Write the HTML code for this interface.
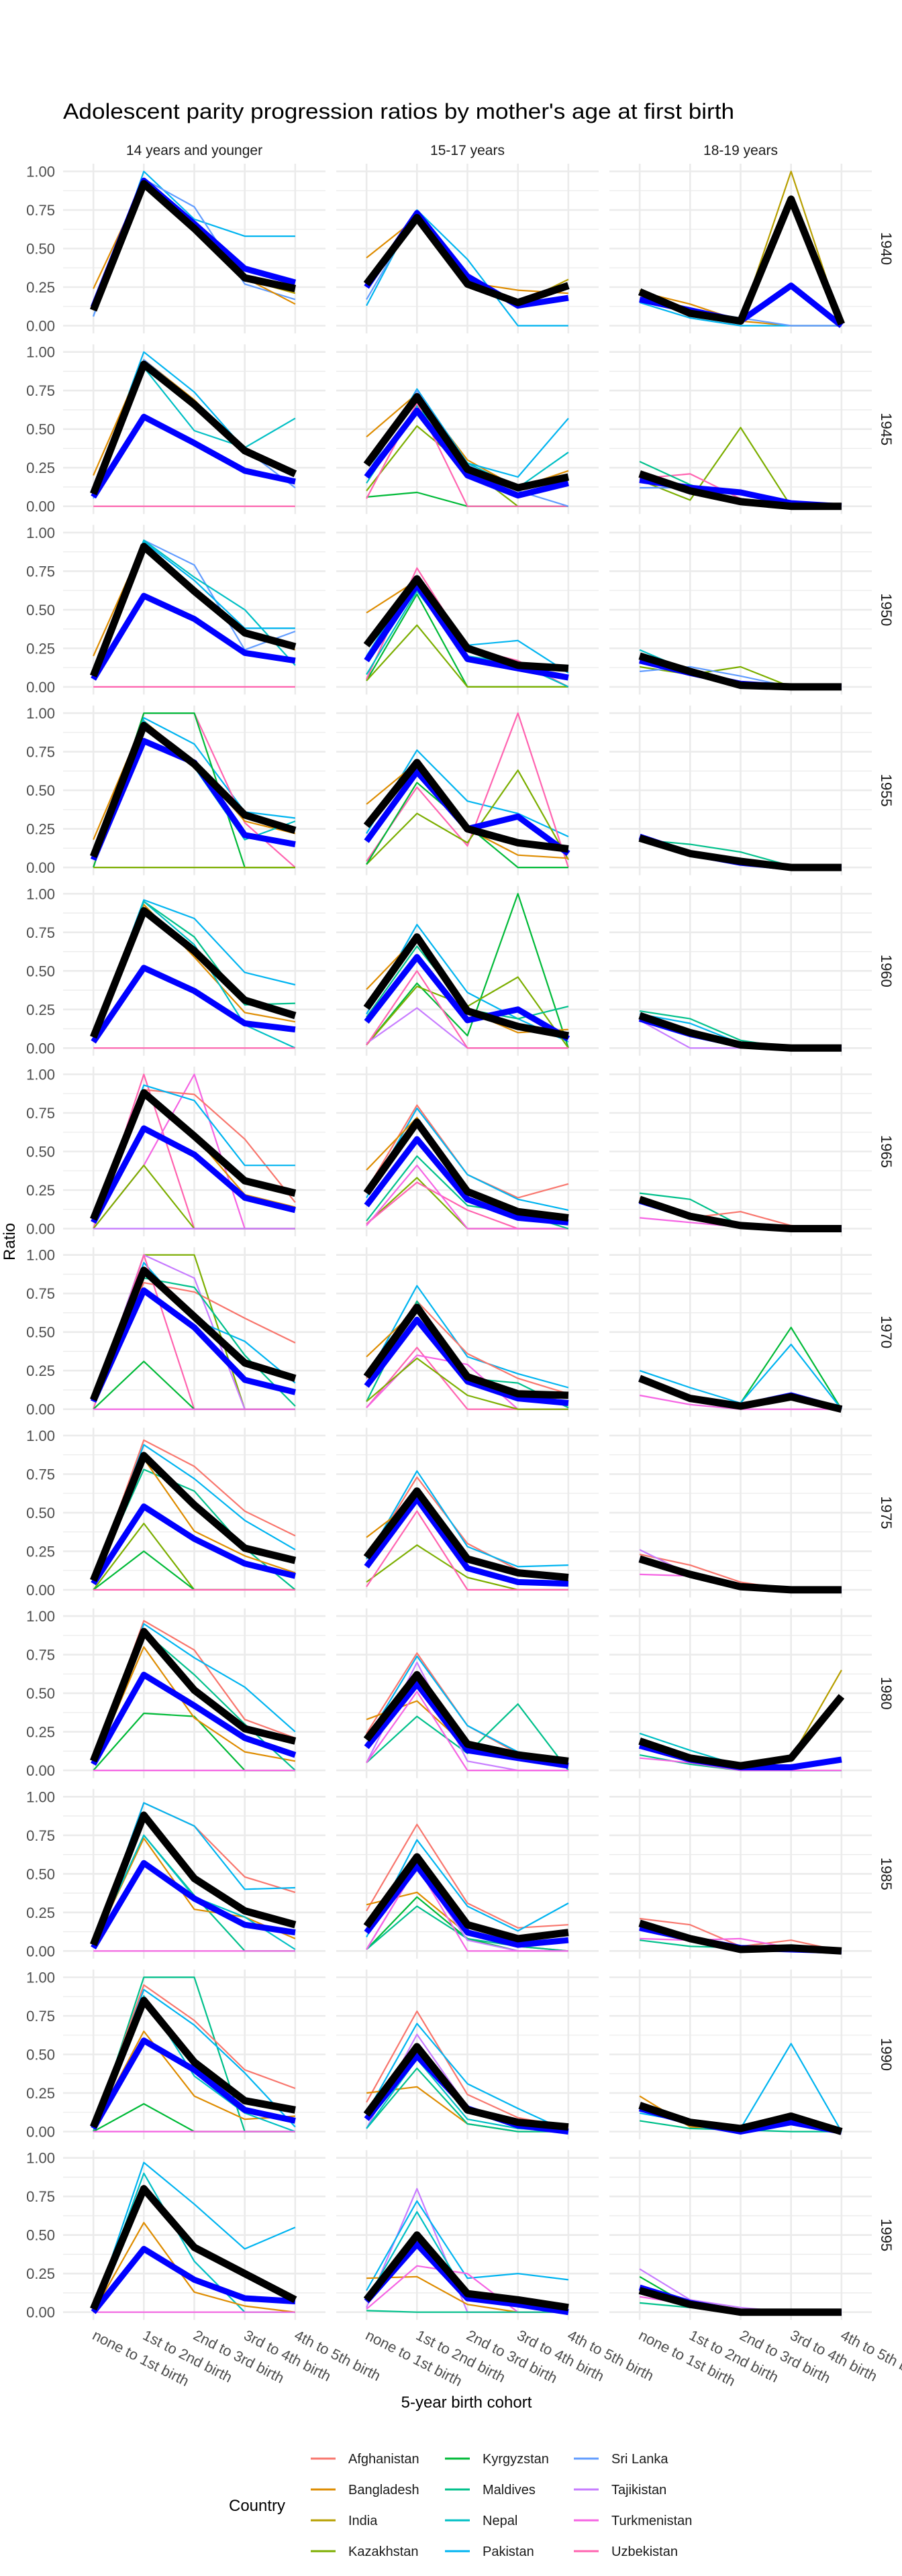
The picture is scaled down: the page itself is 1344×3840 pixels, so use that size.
<!DOCTYPE html>
<html><head><meta charset="utf-8"><title>Adolescent parity progression ratios</title>
<style>
html,body{margin:0;padding:0;background:#fff;}
svg{display:block;font-family:"Liberation Sans",Arial,sans-serif;}
</style></head>
<body>
<svg id="chart" width="1344" height="3840" viewBox="0 0 1344 3840" xmlns="http://www.w3.org/2000/svg">
<rect x="0" y="0" width="1344" height="3840" fill="#fff"/>
<text x="94" y="177" font-size="32" fill="#000" textLength="1000" lengthAdjust="spacingAndGlyphs">Adolescent parity progression ratios by mother's age at first birth</text>
<g id="panels"></g>
<text x="695" y="3589" font-size="24" text-anchor="middle" fill="#000">5-year birth cohort</text>
<text transform="translate(22,1851) rotate(-90)" font-size="24" text-anchor="middle" fill="#000">Ratio</text>
<g id="legend"></g>
</svg>
<script>
const stages = ["none to 1st birth","1st to 2nd birth","2nd to 3rd birth","3rd to 4th birth","4th to 5th birth"];
const ageGroups = ["14 years and younger","15-17 years","18-19 years"];
const cohorts = ["1940","1945","1950","1955","1960","1965","1970","1975","1980","1985","1990","1995"];
const yTicks = [0,0.25,0.5,0.75,1];
const yTickLabels = ["0.00","0.25","0.50","0.75","1.00"];
const countries = ["Afghanistan","Bangladesh","India","Kazakhstan","Kyrgyzstan","Maldives","Nepal","Pakistan","Sri Lanka","Tajikistan","Turkmenistan","Uzbekistan"];
const countryColors = ["#F8766D","#DE8C00","#B79F00","#7CAE00","#00BA38","#00C08B","#00BFC4","#00B4F0","#619CFF","#C77CFF","#F564E3","#FF64B0"];

// black (overall) line, one per panel, row-major (cohort, age group)
const blackSeries = [
 [.10,.92,.63,.31,.24],[.27,.70,.27,.15,.26],[.22,.08,.03,.82,.01],
 [.08,.92,.66,.36,.21],[.27,.71,.24,.12,.19],[.21,.10,.03,0,0],
 [.07,.91,.62,.35,.26],[.27,.70,.25,.14,.12],[.20,.10,.01,0,0],
 [.07,.92,.67,.34,.24],[.27,.68,.25,.16,.12],[.19,.09,.04,0,0],
 [.07,.89,.63,.31,.21],[.26,.72,.24,.14,.08],[.21,.10,.02,0,0],
 [.06,.88,.60,.31,.23],[.23,.69,.24,.11,.07],[.19,.08,.02,0,0],
 [.06,.90,.60,.30,.20],[.21,.66,.21,.10,.09],[.20,.07,.02,.08,0],
 [.06,.87,.55,.27,.19],[.21,.64,.20,.11,.08],[.20,.10,.02,0,0],
 [.06,.90,.52,.27,.19],[.20,.62,.17,.10,.06],[.19,.08,.03,.08,.48],
 [.04,.88,.47,.26,.17],[.16,.61,.17,.08,.12],[.18,.08,.01,.02,0],
 [.03,.85,.45,.20,.14],[.11,.55,.14,.06,.03],[.17,.06,.02,.10,0],
 [.02,.80,.42,.25,.08],[.08,.50,.12,.08,.03],[.14,.05,0,0,0]
];
// blue (weighted) line, one per panel
const blueSeries = [
 [.12,.94,.66,.37,.28],[.25,.73,.32,.13,.18],[.17,.10,.03,.26,0],
 [.06,.58,.41,.23,.16],[.19,.62,.20,.07,.15],[.17,.12,.09,.02,0],
 [.05,.59,.44,.22,.17],[.17,.66,.18,.12,.06],[.17,.09,.02,0,0],
 [.05,.82,.68,.21,.15],[.17,.62,.25,.33,.09],[.20,.09,.03,0,0],
 [.04,.52,.37,.16,.12],[.17,.59,.18,.25,.06],[.19,.09,.02,0,0],
 [.04,.65,.48,.20,.12],[.15,.58,.19,.07,.04],[.18,.08,.02,0,0],
 [.05,.77,.53,.19,.11],[.15,.58,.18,.07,.04],[.20,.07,.02,.09,0],
 [.04,.54,.33,.17,.09],[.15,.59,.14,.05,.04],[.20,.10,.02,0,0],
 [.04,.62,.42,.21,.10],[.15,.56,.13,.08,.03],[.16,.07,.02,.02,.07],
 [.02,.57,.34,.17,.12],[.12,.55,.12,.04,.07],[.15,.08,.02,.01,0],
 [.02,.59,.40,.14,.07],[.08,.49,.15,.04,0],[.15,.06,0,.06,0],
 [0,.41,.21,.09,.07],[.07,.44,.09,.05,0],[.16,.06,0,0,0]
];
// country lines: [panel index (row*3+col), country index, values]
const countryLines = [
 [0,7,[.06,1,.69,.58,.58]],[0,8,[.06,.95,.77,.27,.17]],[0,1,[.24,.93,.62,.31,.14]],[0,2,[.10,.92,.62,.30,.21]],
 [1,1,[.44,.70,.28,.23,.21]],[1,7,[.13,.75,.43,0,0]],[1,2,[.27,.70,.28,.14,.30]],[1,8,[.17,.73,.30,.13,.18]],
 [2,2,[.23,.08,.03,1,.01]],[2,1,[.22,.14,.03,0,0]],[2,7,[.15,.05,0,0,0]],[2,8,[.17,.10,.05,0,0]],
 [3,7,[.10,1,.74,.37,.23]],[3,1,[.20,.95,.69,.36,.22]],[3,6,[.08,.90,.49,.38,.57]],[3,8,[.05,.95,.68,.37,.12]],[3,11,[0,0,0,0,0]],
 [4,1,[.45,.73,.30,.12,.23]],[4,7,[.20,.76,.28,.19,.57]],[4,6,[.15,.65,.28,.12,.35]],[4,3,[.10,.52,.25,0,0]],[4,4,[.06,.09,0,0,0]],[4,11,[.05,.67,0,0,0]],[4,8,[.20,.75,.27,.10,0]],
 [5,3,[.17,.04,.51,0,0]],[5,11,[.18,.21,.05,0,0]],[5,5,[.29,.14,.03,0,0]],[5,8,[.12,.12,.05,0,0]],
 [6,8,[.05,.95,.79,.24,.36]],[6,6,[.07,.95,.71,.50,.14]],[6,7,[.07,.94,.69,.38,.38]],[6,1,[.20,.93,.62,.35,.24]],[6,11,[0,0,0,0,0]],
 [7,1,[.48,.69,.25,.15,.12]],[7,7,[.20,.72,.27,.30,.09]],[7,4,[.04,.60,0,0,0]],[7,3,[.04,.40,0,0,0]],[7,11,[.05,.77,.25,.17,0]],[7,6,[.08,.62,.20,.15,0]],
 [8,3,[.13,.08,.13,0,0]],[8,8,[.10,.13,.07,0,0]],[8,6,[.24,.10,.02,0,0]],
 [9,7,[.07,.97,.80,.36,.32]],[9,11,[0,1,1,.29,0]],[9,4,[0,1,1,0,0]],[9,3,[0,0,0,0,0]],[9,1,[.18,.95,.68,.30,.22]],[9,6,[.07,.95,.65,.18,.30]],
 [10,7,[.22,.76,.43,.35,.20]],[10,11,[.04,.52,.14,1,0]],[10,3,[.02,.35,.16,.63,.05]],[10,1,[.41,.68,.25,.08,.06]],[10,4,[.02,.55,.27,0,0]],
 [11,5,[.18,.15,.10,.01,0]],
 [12,7,[.07,.96,.84,.49,.41]],[12,5,[.07,.95,.72,.28,.29]],[12,1,[.07,.93,.59,.23,.17]],[12,6,[.07,.95,.67,.15,0]],[12,11,[0,0,0,0,0]],
 [13,7,[.22,.80,.36,.19,.04]],[13,4,[.02,.42,.08,1,0]],[13,3,[.02,.40,.27,.46,0]],[13,5,[.20,.66,.25,.19,.27]],[13,9,[.03,.26,0,0,0]],[13,1,[.38,.72,.24,.10,.12]],[13,11,[.02,.50,0,0,0]],
 [14,5,[.24,.19,.05,0,0]],[14,7,[.22,.16,.03,0,0]],[14,9,[.18,0,0,0,0]],
 [15,11,[0,1,0,0,0]],[15,10,[0,.41,1,0,0]],[15,0,[.04,.90,.87,.58,.17]],[15,7,[.05,.93,.83,.41,.41]],[15,3,[0,.41,0,0,0]],[15,1,[.06,.90,.60,.22,.14]],[15,9,[0,0,0,0,0]],
 [16,0,[.25,.80,.35,.20,.29]],[16,7,[.20,.78,.35,.19,.12]],[16,1,[.38,.72,.24,.10,.06]],[16,3,[.03,.33,0,0,0]],[16,11,[.03,.30,.12,0,0]],[16,10,[.02,.41,0,0,0]],[16,5,[.05,.47,.15,.10,0]],
 [17,5,[.23,.19,.02,0,0]],[17,0,[.20,.07,.11,.02,0]],[17,10,[.07,.04,.01,0,0]],
 [18,3,[.05,1,1,0,0]],[18,9,[.05,1,.85,0,0]],[18,0,[.05,.82,.76,.59,.43]],[18,7,[.05,.95,.58,.44,.17]],[18,11,[0,1,0,0,0]],[18,4,[0,.31,0,0,0]],[18,5,[.05,.85,.79,.35,.02]],[18,10,[0,0,0,0,0]],
 [19,7,[.20,.80,.34,.23,.14]],[19,0,[.20,.70,.36,.20,.10]],[19,5,[.05,.70,.20,.17,.01]],[19,1,[.34,.65,.20,.10,.05]],[19,11,[.01,.40,0,0,0]],[19,10,[.01,.35,.29,0,0]],[19,3,[.05,.33,.09,0,0]],
 [20,4,[.20,.08,.04,.53,0]],[20,7,[.25,.14,.04,.42,0]],[20,10,[.09,.03,0,0,0]],
 [21,0,[.06,.97,.80,.51,.35]],[21,7,[.06,.94,.72,.45,.26]],[21,5,[.06,.78,.64,.27,0]],[21,1,[.06,.85,.38,.22,.11]],[21,3,[0,.43,0,0,0]],[21,4,[0,.25,0,0,0]],[21,11,[0,0,0,0,0]],
 [22,0,[.20,.73,.30,.13,.08]],[22,7,[.20,.77,.28,.15,.16]],[22,1,[.34,.59,.20,.10,.06]],[22,3,[.05,.29,.08,0,0]],[22,11,[.02,.51,0,0,0]],
 [23,0,[.23,.16,.05,0,0]],[23,10,[.10,.09,.01,0,0]],[23,9,[.26,.10,.02,0,0]],
 [24,0,[.06,.97,.78,.33,.21]],[24,7,[.06,.95,.73,.54,.25]],[24,4,[0,.37,.35,0,0]],[24,1,[.04,.80,.34,.12,.06]],[24,5,[.06,.90,.62,.30,0]],[24,10,[0,0,0,0,0]],
 [25,0,[.24,.76,.29,.11,.04]],[25,7,[.20,.74,.29,.12,.06]],[25,1,[.33,.45,.15,.10,.03]],[25,5,[.05,.35,.11,.43,0]],[25,9,[.05,.70,.06,0,0]],[25,10,[.05,.51,0,0,0]],
 [26,2,[.19,.09,.03,.08,.65]],[26,6,[.24,.13,.03,0,0]],[26,5,[.10,.04,0,0,0]],[26,10,[.08,.05,0,0,0]],
 [27,0,[.04,.96,.81,.48,.38]],[27,7,[.04,.96,.81,.40,.41]],[27,5,[.04,.75,.36,0,0]],[27,1,[.04,.73,.27,.22,.08]],[27,6,[.04,.75,.35,.22,.01]],[27,10,[0,0,0,0,0]],
 [28,0,[.26,.82,.31,.15,.17]],[28,7,[.09,.72,.29,.13,.31]],[28,1,[.30,.38,.11,.03,0]],[28,4,[.01,.35,.08,0,0]],[28,5,[.01,.29,.08,.03,0]],[28,9,[.01,.55,.07,0,0]],[28,10,[.01,.55,0,0,0]],
 [29,0,[.21,.17,.03,.07,0]],[29,10,[.08,.07,.08,.02,0]],[29,5,[.07,.03,.02,0,0]],
 [30,5,[0,1,1,0,0]],[30,0,[.03,.95,.72,.40,.28]],[30,7,[.03,.92,.69,.38,.03]],[30,1,[.03,.65,.23,.08,.10]],[30,4,[0,.18,0,0,0]],[30,6,[.03,.88,.36,.12,0]],[30,10,[0,0,0,0,0]],
 [31,0,[.19,.78,.24,.09,.03]],[31,7,[.12,.70,.31,.15,0]],[31,1,[.25,.29,.05,0,0]],[31,5,[.02,.41,.05,0,0]],[31,9,[.02,.63,.16,.02,0]],[31,6,[.02,.47,.08,.02,0]],
 [32,7,[.12,.06,.02,.57,0]],[32,1,[.23,.03,.02,.05,0]],[32,5,[.07,.02,.01,0,0]],
 [33,7,[0,.97,.70,.41,.55]],[33,6,[0,.90,.33,0,0]],[33,1,[0,.58,.13,.04,0]],[33,10,[0,0,0,0,0]],
 [34,9,[.03,.80,0,0,0]],[34,7,[.14,.72,.22,.25,.21]],[34,1,[.22,.23,.05,0,0]],[34,10,[.02,.30,.25,0,0]],[34,5,[.01,0,0,0,0]],[34,6,[.08,.65,.10,.05,0]],
 [35,9,[.28,.08,.03,0,0]],[35,4,[.23,.04,0,0,0]],[35,5,[.06,.03,0,0,0]],[35,10,[.10,.05,0,0,0]]
];

const NS = "http://www.w3.org/2000/svg";
const panelsG = document.getElementById("panels");
const PX0 = 94, PW = 391, PGAP = 16, PY0 = 244, PH = 253, PITCH = 269.2;
function panelLeft(c){ return PX0 + c*(PW+PGAP); }
function panelTop(r){ return PY0 + r*PITCH; }
function xScale(c, i){ return panelLeft(c) + PW*(0.6 + i)/5.2; }
function yScale(r, v){ const t = panelTop(r); return t + PH - PH*(0.05 + v)/1.1; }
function mk(tag, attrs){ const e = document.createElementNS(NS, tag); for (const k in attrs) e.setAttribute(k, attrs[k]); return e; }
function linePath(r, c, vals){ return vals.map((v,i)=> (i?"L":"M") + xScale(c,i).toFixed(1) + "," + yScale(r,v).toFixed(1)).join(" "); }

for (let r = 0; r < cohorts.length; r++) {
  for (let c = 0; c < ageGroups.length; c++) {
    const g = mk("g", {});
    
    
    const L = panelLeft(c), T = panelTop(r);
    [0.125,0.375,0.625,0.875].forEach(v=>{
      const ln = mk("line",{x1:L,x2:L+PW,y1:yScale(r,v),y2:yScale(r,v),stroke:"#ebebeb","stroke-width":1.3});
      
      
      g.appendChild(ln);
    });
    yTicks.forEach(v=>{
      const ln = mk("line",{x1:L,x2:L+PW,y1:yScale(r,v),y2:yScale(r,v),stroke:"#ebebeb","stroke-width":2.6});
      
      
      g.appendChild(ln);
    });
    stages.forEach((s,i)=>{
      const ln = mk("line",{x1:xScale(c,i),x2:xScale(c,i),y1:T,y2:T+PH,stroke:"#ebebeb","stroke-width":2.6});
      
      
      g.appendChild(ln);
    });
    panelsG.appendChild(g);
    if (c === 0) {
      yTicks.forEach((v,k)=>{
        const t = mk("text",{x:82,y:yScale(r,v)+8,"font-size":22,"text-anchor":"end",fill:"#4d4d4d"});
        
        
        t.textContent = yTickLabels[k];
        panelsG.appendChild(t);
      });
    }
    if (r === 0) {
      const t = mk("text",{x:L+PW/2,y:231,"font-size":21,"text-anchor":"middle",fill:"#1a1a1a"});
      
      
      t.textContent = ageGroups[c];
      panelsG.appendChild(t);
    }
    if (c === 2) {
      const cy = T + PH/2;
      const t = mk("text",{transform:"translate(1313," + cy + ") rotate(90)","font-size":22,"text-anchor":"middle",fill:"#1a1a1a"});
      
      
      t.textContent = cohorts[r];
      panelsG.appendChild(t);
    }
    if (r === cohorts.length - 1) {
      stages.forEach((s,i)=>{
        const t = mk("text",{transform:"translate(" + (xScale(c,i)-3) + ",3486) rotate(27)","font-size":22,fill:"#4d4d4d"});
        
        
        t.textContent = s;
        panelsG.appendChild(t);
      });
    }
  }
}
for (let k = 0; k < countryLines.length; k++) {
  const p = countryLines[k][0], ci = countryLines[k][1], vals = countryLines[k][2];
  const r = Math.floor(p/3), c = p % 3;
  const path = mk("path",{d:linePath(r,c,vals),fill:"none",stroke:countryColors[ci],"stroke-width":2.2,"stroke-linejoin":"round"});
  
  
  panelsG.appendChild(path);
}
for (let p = 0; p < blueSeries.length; p++) {
  const r = Math.floor(p/3), c = p % 3;
  const path = mk("path",{d:linePath(r,c,blueSeries[p]),fill:"none",stroke:"#0000ff","stroke-width":9,"stroke-linejoin":"round"});
  
  
  panelsG.appendChild(path);
}
for (let p = 0; p < blackSeries.length; p++) {
  const r = Math.floor(p/3), c = p % 3;
  const path = mk("path",{d:linePath(r,c,blackSeries[p]),fill:"none",stroke:"#000","stroke-width":11,"stroke-linejoin":"round"});
  
  
  panelsG.appendChild(path);
}
const lg = document.getElementById("legend");
const lt = mk("text",{x:341,y:3743,"font-size":24,fill:"#000"});


lt.textContent = "Country";
lg.appendChild(lt);
const colX = [463, 663, 855];
const rowY = [3665, 3711, 3757, 3803];
countries.forEach((name,i)=>{
  const col = Math.floor(i/4), row = i % 4;
  const e = mk("g",{});
  
  
  const ln = mk("line",{x1:colX[col],x2:colX[col]+37,y1:rowY[row],y2:rowY[row],stroke:countryColors[i],"stroke-width":3});
  
  
  const t = mk("text",{x:colX[col]+56,y:rowY[row]+7,"font-size":20,fill:"#1a1a1a"});
  
  
  t.textContent = name;
  e.appendChild(ln); e.appendChild(t);
  lg.appendChild(e);
});
</script>
</body></html>
